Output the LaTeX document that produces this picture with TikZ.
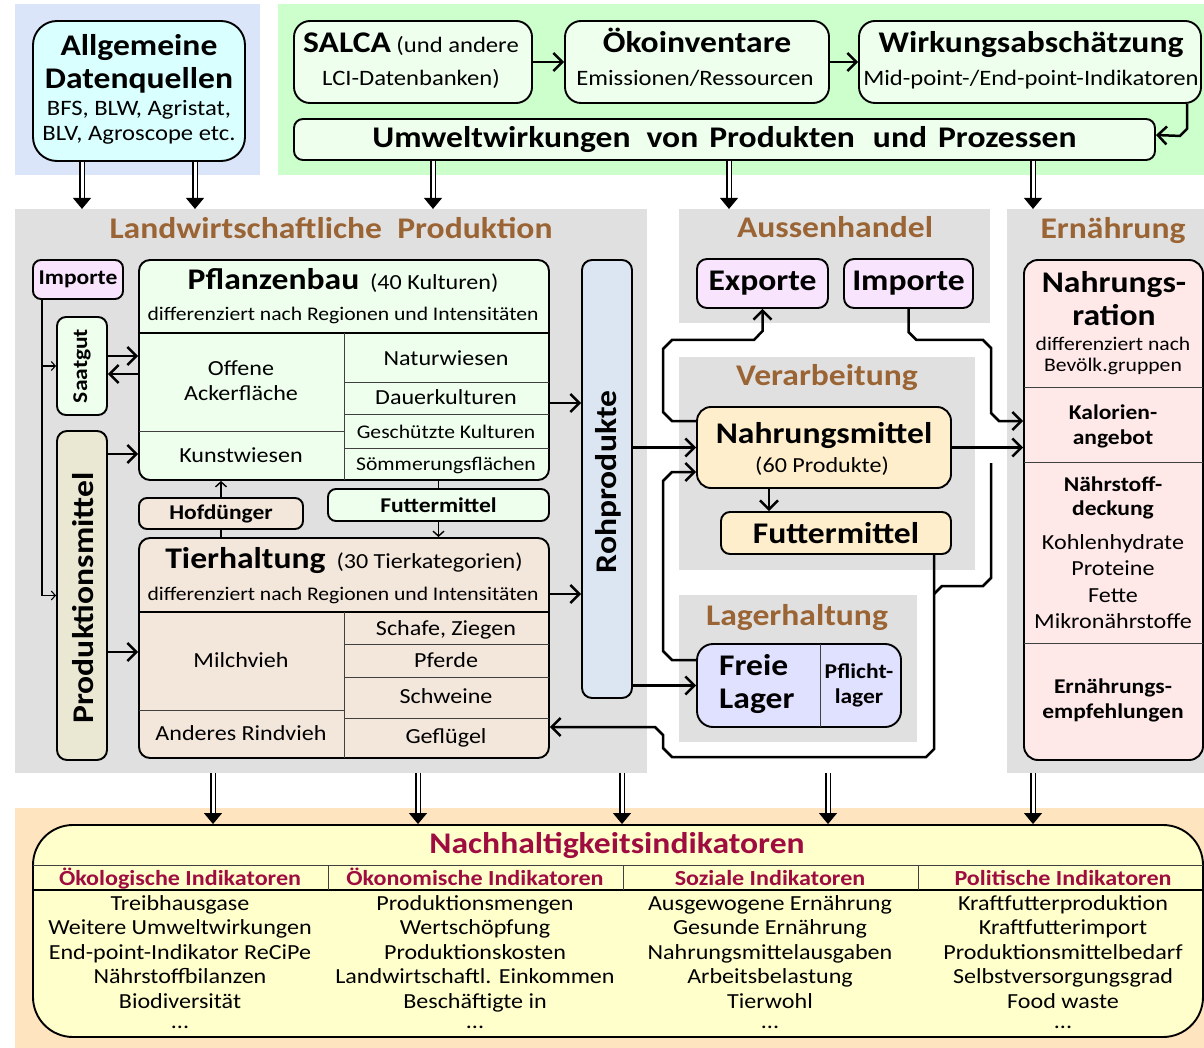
\documentclass[tikz,border=0pt]{standalone}
\usepackage{fontspec}
\setmainfont{Carlito}[FakeStretch=1.12]
\usetikzlibrary{arrows.meta}

\definecolor{bgblau}{HTML}{DAE5FA}
\definecolor{bggruen}{HTML}{CCFFCC}
\definecolor{bggrau}{HTML}{E0E0E0}
\definecolor{bgorange}{HTML}{FFE4C0}
\definecolor{cyanbox}{HTML}{D9FFFF}
\definecolor{gruenbox}{HTML}{EEFFEE}
\definecolor{lilabox}{HTML}{F8E4FC}
\definecolor{tanbox}{HTML}{F3E6DB}
\definecolor{olivbox}{HTML}{EAE8D3}
\definecolor{blaubox}{HTML}{DCE6F2}
\definecolor{orangebox}{HTML}{FFEECC}
\definecolor{lagerbox}{HTML}{E0E0FF}
\definecolor{rosabox}{HTML}{FEE8E8}
\definecolor{gelbbox}{HTML}{FFFFCC}
\definecolor{braun}{HTML}{9A6434}
\definecolor{weinrot}{HTML}{9E0C40}

\newcommand\fhead{\fontsize{30}{33}\selectfont\bfseries}
\newcommand\ftitel{\fontsize{30}{33}\selectfont\bfseries}
\newcommand\fbar{\fontsize{30}{33}\selectfont\bfseries}
\newcommand\fmid{\fontsize{21}{24}\selectfont\bfseries}
\newcommand\fvert{\fontsize{30}{33}\selectfont\bfseries}
\newcommand\fcell{\fontsize{21.5}{24}\selectfont}
\newcommand\fsub{\fontsize{22}{24}\selectfont}
\newcommand\fklein{\fontsize{19.3}{22}\selectfont}
\newcommand\fkopf{\fontsize{21.5}{24}\selectfont\bfseries}

\begin{document}
\begin{tikzpicture}[x=1pt,y=-1pt,
  box/.style={draw, line width=1.9pt, rounded corners=11pt, inner sep=0pt},
  txt/.style={inner sep=0pt, anchor=base, font=\fcell},
  titel/.style={txt, font=\ftitel, text=braun},
  kopf/.style={txt, font=\fkopf, text=weinrot},
  arr/.style={line width=2.5pt, -{Straight Barb[length=9pt,width=18pt]}},
  arrthin/.style={line width=1.1pt, -{Straight Barb[length=4pt,width=9pt]}},
  arrmid/.style={line width=1.4pt, -{Straight Barb[length=5pt,width=11pt]}},
  dbl/.style={double, double distance=3pt, line width=1.1pt, -{Triangle[length=11pt,width=18pt]}},
  sep/.style={line width=0.9pt, black!75},
  hsep/.style={line width=1.7pt}]
\useasboundingbox (0,0) rectangle (1204,1048);

% Hintergrundflaechen
\fill[bgblau] (15,4) rectangle (260,175);
\fill[bggruen] (278,4) rectangle (1204,175);
\fill[bggrau] (15,209) rectangle (647,773);
\fill[bggrau] (679,209) rectangle (990,323);
\fill[bggrau] (679,357) rectangle (975,570);
\fill[bggrau] (679,595) rectangle (917,742);
\fill[bggrau] (1007,209) rectangle (1204,773);
\fill[bgorange] (15,808) rectangle (1204,1048);

% Titel der Bereiche
\node[titel] (tlw) at (331,239) {Landwirtschaftliche\ \ Produktion};
\node[titel] (tah) at (835,238) {Aussenhandel};
\node[titel] (tvb) at (827,385) {Verarbeitung};
\node[titel] (tlh) at (797,625) {Lagerhaltung};
\node[titel] (tern) at (1113,239) {Ernährung};

% Datenquellen
\node[box, rounded corners=24pt, fill=cyanbox, minimum width=212, minimum height=140] (quellen) at (139,91) {};
\node[txt, font=\fhead] (q1) at (139,56) {Allgemeine};
\node[txt, font=\fhead] (q2) at (139,89) {Datenquellen};
\node[txt, font=\fsub] (q3) at (139,116) {BFS, BLW, Agristat,};
\node[txt, font=\fsub] (q4) at (139,141) {BLV, Agroscope etc.};

% Oekobilanzierung
\node[box, rounded corners=16pt, fill=gruenbox, minimum width=238, minimum height=82] (salca) at (413,62) {};
\node[txt] (s1) at (411,53) {{\fhead SALCA} {\fsub(und andere}};
\node[txt, font=\fsub] (s2) at (411,86) {LCI-Datenbanken)};
\node[box, rounded corners=16pt, fill=gruenbox, minimum width=264, minimum height=82] (oeko) at (697,62) {};
\node[txt, font=\fhead] (o1) at (697,53) {Ökoinventare};
\node[txt, font=\fsub] (o2) at (695,86) {Emissionen/Ressourcen};
\node[box, rounded corners=16pt, fill=gruenbox, minimum width=342, minimum height=82] (wirk) at (1030,62) {};
\node[txt, font=\fhead] (w1) at (1031,53) {Wirkungsabschätzung};
\node[txt, font=\fsub] (w2) at (1031,86) {Mid-point-/End-point-Indikatoren};
\node[box, rounded corners=9pt, fill=gruenbox, minimum width=861, minimum height=41, font=\fbar] (umwelt) at (724.5,139.5)
  {Umweltwirkungen\hspace{16pt}von\hspace{11pt}Produkten\hspace{18pt}und\hspace{11pt}Prozessen};

% Landwirtschaftliche Produktion
\node[box, rounded corners=8pt, fill=lilabox, minimum width=90, minimum height=39, font=\fmid] (imp1) at (78,279.5) {Importe};
\node[box, rounded corners=9pt, fill=gruenbox, minimum width=50, minimum height=98] (saat) at (82,366) {};
\node[txt, anchor=center, rotate=90, font=\fmid] (sa1) at (82,366) {Saatgut};
\node[box, rounded corners=10pt, fill=olivbox, minimum width=50, minimum height=329] (prodm) at (82,595.5) {};
\node[txt, anchor=center, rotate=90, font=\fvert] (pm1) at (83,598) {Produktionsmittel};

\node[box, fill=gruenbox, minimum width=410, minimum height=220] (pflanz) at (344,370) {};
\node[txt] (p1) at (343,290) {{\fhead Pflanzenbau}\ \ (40 Kulturen)};
\node[txt, font=\fklein] (p2) at (343,321) {differenziert nach Regionen und Intensitäten};
\draw[hsep] (139,333) -- (549,333);
\draw[sep] (344,333) -- (344,480);
\draw[sep] (139,431) -- (344,431);
\foreach \y in {382,414,448} \draw[sep] (344,\y) -- (549,\y);
\node[txt] (p3) at (241,375) {Offene};
\node[txt] (p4) at (241,400) {Ackerfläche};
\node[txt] (p5) at (241,462) {Kunstwiesen};
\node[txt] (p6) at (446,365) {Naturwiesen};
\node[txt] (p7) at (446,404) {Dauerkulturen};
\node[txt, font=\fklein] (p8) at (446,438) {Geschützte Kulturen};
\node[txt, font=\fklein] (p9) at (446,470) {Sömmerungsflächen};

\node[box, rounded corners=8pt, fill=tanbox, minimum width=164, minimum height=31, font=\fmid] (hof) at (221,513.5) {Hofdünger};
\node[box, rounded corners=8pt, fill=gruenbox, minimum width=221, minimum height=32, font=\fmid] (futt1) at (438.5,505) {Futtermittel};

\node[box, fill=tanbox, minimum width=410, minimum height=220] (tier) at (344,648) {};
\node[txt] (t1) at (344,568) {{\fhead Tierhaltung}\ \ (30 Tierkategorien)};
\node[txt, font=\fklein] (t2) at (343,600) {differenziert nach Regionen und Intensitäten};
\draw[hsep] (139,612) -- (549,612);
\draw[sep] (344,612) -- (344,758);
\draw[sep] (139,710) -- (344,710);
\foreach \y in {644,677,718} \draw[sep] (344,\y) -- (549,\y);
\node[txt] (t3) at (241,667) {Milchvieh};
\node[txt] (t4) at (241,740) {Anderes Rindvieh};
\node[txt] (t5) at (446,635) {Schafe, Ziegen};
\node[txt] (t6) at (446,667) {Pferde};
\node[txt] (t7) at (446,703) {Schweine};
\node[txt] (t8) at (446,743) {Geflügel};

\node[box, rounded corners=10pt, fill=blaubox, minimum width=50, minimum height=438] (rohp) at (607,479) {};
\node[txt, anchor=center, rotate=90, font=\fvert] (r1) at (608,482) {Rohprodukte};

% Aussenhandel, Verarbeitung, Lagerhaltung
\node[box, rounded corners=10pt, fill=lilabox, minimum width=131, minimum height=49, font=\fhead] (exp) at (762.5,283.5) {Exporte};
\node[box, rounded corners=10pt, fill=lilabox, minimum width=129, minimum height=49, font=\fhead] (imp2) at (908.5,283.5) {Importe};
\node[box, rounded corners=14pt, fill=orangebox, minimum width=254, minimum height=81] (nahr) at (824,447.5) {};
\node[txt, font=\fhead] (n1) at (824,443) {Nahrungsmittel};
\node[txt] (n2) at (822,472) {(60 Produkte)};
\node[box, rounded corners=9pt, fill=orangebox, minimum width=230, minimum height=42, font=\fhead] (futt2) at (836,533) {Futtermittel};
\node[box, rounded corners=16pt, fill=lagerbox, minimum width=204, minimum height=83] (lager) at (799,685.5) {};
\draw[sep] (820,644) -- (820,727);
\node[txt, anchor=base west, font=\fhead] (l1) at (719,675) {Freie};
\node[txt, anchor=base west, font=\fhead] (l2) at (719,708) {Lager};
\node[txt, font=\fmid] (l3) at (859,678) {Pflicht-};
\node[txt, font=\fmid] (l4) at (859,703) {lager};

% Ernaehrung
\node[box, rounded corners=14pt, fill=rosabox, minimum width=179, minimum height=500] (ern) at (1113.5,510) {};
\node[txt, font=\fhead] (e1) at (1114,293) {Nahrungs-};
\node[txt, font=\fhead] (e2) at (1114,326) {ration};
\node[txt, font=\fklein] (e3) at (1113,350) {differenziert nach};
\node[txt, font=\fklein] (e4) at (1113,371) {Bevölk.gruppen};
\draw[sep] (1024,387) -- (1203,387);
\node[txt, font=\fmid] (e5) at (1113,419) {Kalorien-};
\node[txt, font=\fmid] (e6) at (1113,444) {angebot};
\draw[sep] (1024,462) -- (1203,462);
\node[txt, font=\fmid] (e7) at (1113,491) {Nährstoff-};
\node[txt, font=\fmid] (e8) at (1113,515) {deckung};
\foreach \t [count=\i] in {Kohlenhydrate,Proteine,Fette,Mikronährstoffe}
  \node[txt] (en\i) at (1113,522.5+26.5*\i) {\t};
\draw[sep] (1024,643) -- (1203,643);
\node[txt, font=\fmid] (e9) at (1113,693) {Ernährungs-};
\node[txt, font=\fmid] (e10) at (1113,718) {empfehlungen};

% Nachhaltigkeitsindikatoren
\node[box, rounded corners=40pt, fill=gelbbox, minimum width=1170, minimum height=212] (nachh) at (618,931) {};
\node[txt, font=\ftitel, text=weinrot] (nh) at (617,853) {Nachhaltigkeitsindikatoren};
\draw[sep] (33,865) -- (1203,865);
\draw[hsep] (33,890) -- (1203,890);
\foreach \x in {328,623,918} \draw[sep] (\x,865) -- (\x,890);
\node[kopf] (k1) at (180,885) {Ökologische Indikatoren};
\node[kopf] (k2) at (475,885) {Ökonomische Indikatoren};
\node[kopf] (k3) at (770,885) {Soziale Indikatoren};
\node[kopf] (k4) at (1063,885) {Politische Indikatoren};
\foreach \t [count=\i] in {Treibhausgase,Weitere Umweltwirkungen,End-point-Indikator ReCiPe,Nährstoffbilanzen,Biodiversität}
  \node[txt] (oekl\i) at (180,885.5+24.5*\i) {\t};
\foreach \t [count=\i] in {Produktionsmengen,Wertschöpfung,Produktionskosten,Landwirtschaftl. Einkommen,Beschäftigte in}
  \node[txt] (oekn\i) at (475,885.5+24.5*\i) {\t};
\foreach \t [count=\i] in {Ausgewogene Ernährung,Gesunde Ernährung,Nahrungsmittelausgaben,Arbeitsbelastung,Tierwohl}
  \node[txt] (soz\i) at (770,885.5+24.5*\i) {\t};
\foreach \t [count=\i] in {Kraftfutterproduktion,Kraftfutterimport,Produktionsmittelbedarf,Selbstversorgungsgrad,Food waste}
  \node[txt] (pol\i) at (1063,885.5+24.5*\i) {\t};
\node[txt] (oekl6) at (180,1028) {...};
\node[txt] (oekn6) at (475,1028) {...};
\node[txt] (soz6) at (770,1028) {...};
\node[txt] (pol6) at (1063,1028) {...};

% Verbindungen
\draw[dbl] ([xshift=-57]quellen.south) -- ++(0,47);
\draw[dbl] ([xshift=56]quellen.south) -- ++(0,47);
\foreach \dx in {-291.5,4.5,308.5}
  \draw[dbl] ([xshift=\dx]umwelt.south) -- ++(0,48);
\foreach \x in {213,418,622,828,1033}
  \draw[dbl] (\x,773) -- (nachh.north -| \x,0);

\draw[arr] (salca) -- (oeko);
\draw[arr] (oeko) -- (wirk);
\draw[arr] ([xshift=157]wirk.south) -- ++(0,25) -- ++(-7,7) -- ([yshift=4.5]umwelt.east);

\draw[arrthin] ([xshift=-36]imp1.south) |- (prodm.west);
\draw[arrthin] (saat.west -| 42,0) -- (saat.west);
\draw[arr] (saat.east |- 0,356) -- (pflanz.west |- 0,356);
\draw[arr] (pflanz.west |- 0,374) -- (saat.east |- 0,374);
\draw[arr] (prodm.east |- 0,454) -- (pflanz.west |- 0,454);
\draw[arr] (prodm.east |- 0,652) -- (tier.west |- 0,652);
\draw[arrmid] (hof.north) -- (hof.north |- pflanz.south);
\draw[line width=1.4pt] (tier.north -| hof.south) -- (hof.south);
\draw[line width=1.4pt] (pflanz.south -| futt1.north) -- (futt1.north);
\draw[arrmid] (futt1.south) -- (futt1.south |- tier.north);
\draw[arr] (pflanz.east |- 0,403) -- (rohp.west |- 0,403);
\draw[arr] (tier.east |- 0,594) -- (rohp.west |- 0,594);
\draw[arr] (rohp.east |- nahr.west) -- (nahr.west);
\draw[arr] (rohp.east |- lager.west) -- (lager.west);

\draw[arr] (nahr.west |- 0,421) -- (672,421) -- (663,412) -- (663,349) -- (672,340) -- (754,340) -- (762.5,331) -- (exp.south);
\draw[arr] (lager.west |- 0,660) -- (672,660) -- (663,651) -- (663,481) -- (672,472) -- (nahr.west |- 0,472);
\draw[arr] (nahr.east) -- (ern.west |- nahr.east);
\draw[arr] (nahr.south -| 769,0) -- (futt2.north -| 769,0);
\draw[arr] (imp2.south) -- (908.5,332) -- (916.5,340) -- (983,340) -- (991,348) -- (991,413) -- (999,421) -- (ern.west |- 0,421);
\draw[line width=2.5pt] (991,463) -- (991,578) -- (983,586) -- (942,586) -- (934,594);
\draw[arr] (futt2.south -| 934,0) -- (934,749) -- (926,757) -- (672,757) -- (663,748) -- (663,735) -- (655,727) -- (tier.east |- 0,727);
\end{tikzpicture}
\end{document}
